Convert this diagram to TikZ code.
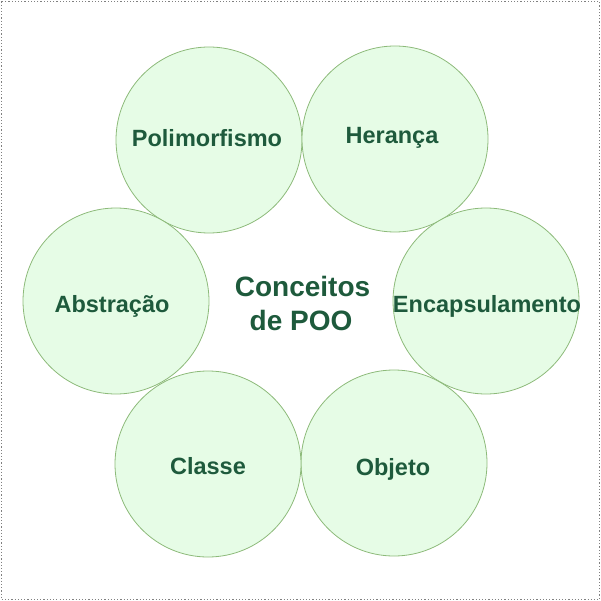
\documentclass[tikz,border=0pt]{standalone}
\usepackage{fontspec}
\setmainfont{Liberation Sans}
\definecolor{cfill}{HTML}{E6FCE6}
\definecolor{cline}{HTML}{8DBA7A}
\definecolor{ctext}{HTML}{1E5A3C}
\begin{document}
\begin{tikzpicture}[x=1pt,y=-1pt,
  bubble/.style={circle,draw=cline,fill=cfill,line width=0.8pt,minimum size=186pt,inner sep=0pt},
  lbl/.style={text=ctext,anchor=base,inner sep=0pt,font=\fontsize{23.5}{26}\selectfont\bfseries},
  centre/.style={text=ctext,anchor=base,inner sep=0pt,font=\fontsize{28}{28}\selectfont\bfseries}]
\useasboundingbox (0,0) rectangle (601,601);
\draw[gray,dotted,line width=1.2pt] (1.5,1.5) rectangle (599.5,599.5);
\node[bubble] (pol) at (209,140) {};
\node[bubble] (her) at (395,139) {};
\node[bubble] (enc) at (486,301) {};
\node[bubble] (obj) at (394,463) {};
\node[bubble] (cla) at (208,464) {};
\node[bubble] (abs) at (116,301) {};
\node[lbl] (polt) at (207,147) {Polimorfismo};
\node[lbl] (hert) at (392,144) {Herança};
\node[lbl] (enct) at (487,312) {Encapsulamento};
\node[lbl] (objt) at (393,475) {Objeto};
\node[lbl] (clat) at (208,474) {Classe};
\node[lbl] (abst) at (112,312) {Abstração};
\node[centre] (ctr1) at (302.5,296) {Conceitos};
\node[centre] (ctr2) at (301,330) {de POO};
\end{tikzpicture}
\end{document}
